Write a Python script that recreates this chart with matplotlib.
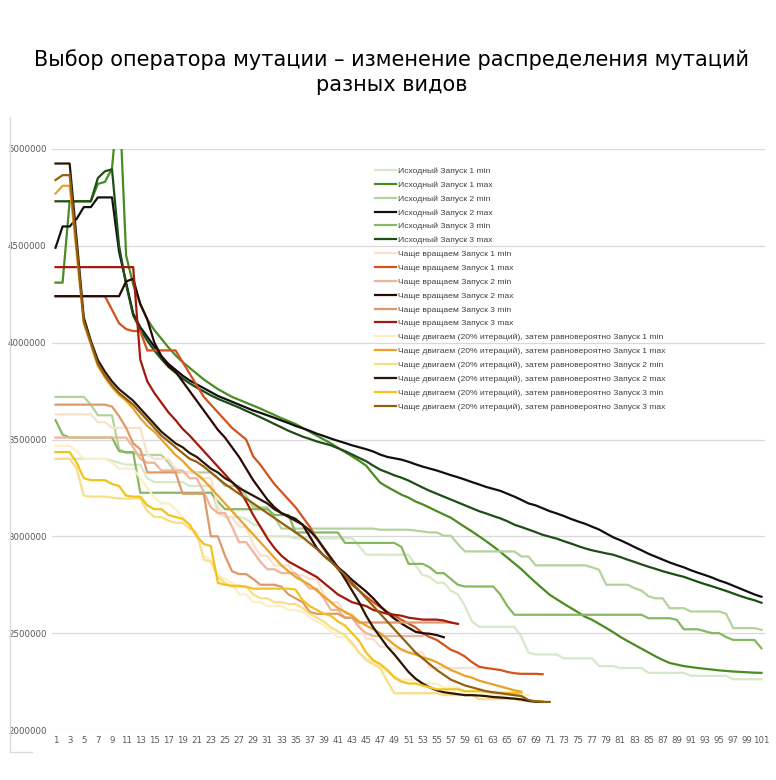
import matplotlib
matplotlib.use("Agg")
import matplotlib.pyplot as plt
from matplotlib.lines import Line2D
from matplotlib.ticker import FuncFormatter

# values are in thousands, x = iteration number 1..n
iterations = list(range(1, 102))

isx1_min = ([3400]*8 + [3390, 3380] + [3370]*3 + [3300] + [3280]*5 + [3260]*4 + [3120] + [3100]*3 + [3090]
            + [3060]*2 + [3000]*4 + [2990]*9 + [2950] + [2905]*7 + [2850, 2800, 2790] + [2760]*2 + [2720, 2700, 2640, 2560]
            + [2533]*6 + [2480, 2400] + [2390]*4 + [2370]*5 + [2330]*3 + [2320]*4 + [2295]*6 + [2280]*6 + [2262]*5)
isx1_max = [4310, 4310, 4730, 4730, 4730, 4730, 4820, 4830, 4900, 5300,
            4450, 4300, 4200, 4120, 4065, 4020, 3975, 3935, 3900, 3870,
            3840, 3810, 3785, 3760, 3740, 3720, 3705, 3690, 3675, 3660,
            3643, 3627, 3610, 3595, 3580, 3560, 3540, 3520, 3500, 3480,
            3458, 3435, 3413, 3390, 3365, 3320, 3277, 3255, 3235, 3215,
            3200, 3180, 3165, 3148, 3130, 3113, 3096, 3072, 3048, 3025,
            3000, 2975, 2948, 2920, 2890, 2860, 2830, 2795, 2762, 2730,
            2698, 2675, 2652, 2630, 2608, 2585, 2569, 2548, 2527, 2505,
            2481, 2460, 2440, 2420, 2400, 2380, 2362, 2346, 2338, 2330,
            2325, 2320, 2316, 2312, 2308, 2305, 2302, 2300, 2298, 2296, 2295]
isx2_min = ([3720]*5 + [3680] + [3625]*3 + [3450] + [3430]*2 + [3420]*4 + [3380] + [3330]*6 + [3300] + [3260]*3
            + [3210] + [3150]*3 + [3100] + [3040]*14 + [3034]*5 + [3030, 3025, 3020, 3020, 3003, 3003, 2960]
            + [2922]*8 + [2896]*2 + [2850]*8 + [2840, 2827] + [2750]*4 + [2733, 2720, 2690, 2680, 2680]
            + [2629]*3 + [2612]*5 + [2600] + [2526]*4 + [2517])
isx2_max = [4490, 4600, 4600, 4640, 4700, 4700, 4750, 4750, 4750, 4470,
            4310, 4150, 4080, 4030, 3980, 3930, 3890, 3860, 3830, 3805,
            3785, 3765, 3745, 3725, 3710, 3695, 3680, 3665, 3650, 3638,
            3625, 3612, 3598, 3585, 3570, 3558, 3545, 3530, 3518, 3505,
            3493, 3482, 3470, 3460, 3450, 3438, 3422, 3410, 3403, 3396,
            3385, 3372, 3360, 3350, 3340, 3328, 3316, 3305, 3293, 3280,
            3268, 3255, 3245, 3235, 3220, 3205, 3188, 3170, 3160, 3145,
            3130, 3118, 3105, 3090, 3077, 3065, 3050, 3035, 3015, 2995,
            2980, 2963, 2945, 2928, 2910, 2895, 2880, 2865, 2852, 2840,
            2825, 2812, 2800, 2787, 2772, 2760, 2745, 2730, 2715, 2700, 2688]
isx3_min = ([3600, 3525] + [3510]*7 + [3440] + [3435]*2 + [3225]*11 + [3180] + [3140]*7 + [3110]*3 + [3020]*7
            + [2966]*8 + [2945] + [2858]*3 + [2840] + [2810]*2 + [2780, 2750] + [2741]*5 + [2700, 2640]
            + [2595]*19 + [2577]*4 + [2569] + [2520]*3 + [2510] + [2500]*2 + [2480] + [2465]*4 + [2422])
isx3_max = [4730, 4730, 4730, 4730, 4730, 4730, 4850, 4885, 4895, 4500,
            4300, 4140, 4070, 4010, 3960, 3915, 3875, 3845, 3815, 3790,
            3768, 3748, 3728, 3710, 3695, 3680, 3665, 3648, 3632, 3615,
            3598, 3580, 3563, 3545, 3530, 3515, 3503, 3490, 3480, 3470,
            3455, 3440, 3423, 3405, 3388, 3365, 3344, 3330, 3315, 3303,
            3288, 3270, 3252, 3235, 3220, 3205, 3190, 3175, 3160, 3145,
            3130, 3118, 3105, 3093, 3078, 3060, 3048, 3035, 3022, 3008,
            2998, 2988, 2975, 2963, 2950, 2938, 2928, 2920, 2912, 2905,
            2893, 2880, 2868, 2855, 2843, 2832, 2820, 2810, 2800, 2791,
            2778, 2765, 2753, 2742, 2730, 2718, 2705, 2692, 2680, 2670, 2657]

vr1_min = ([3630]*6 + [3590]*2 + [3560]*5 + [3420] + [3400]*3 + [3350] + [3330]*3 + [3300]*2 + [3150]
           + [3100]*2 + [3050]*2 + [2960] + [2900]*2 + [2850]*3 + [2800]*2 + [2780]*2 + [2700] + [2660]*2
           + [2600]*2 + [2550] + [2470]*2 + [2430]*2 + [2420]*2 + [2400]*3 + [2320]*8)
vr1_max = ([4240]*8 + [4170, 4100, 4070, 4060, 4060] + [3960]*5
           + [3900, 3840, 3780, 3720, 3680, 3640, 3600, 3560, 3530]
           + [3500, 3413, 3370, 3320, 3270, 3230, 3190, 3150, 3100, 3050]
           + [2990, 2935, 2880, 2830, 2790, 2750, 2720, 2690, 2660, 2635]
           + [2610, 2590, 2569, 2550, 2530, 2500, 2480, 2465, 2440, 2414]
           + [2400, 2379, 2350, 2327, 2320, 2315, 2310, 2300, 2293, 2290, 2290, 2290, 2288])
vr2_min = ([3510]*11 + [3460, 3400] + [3380]*2 + [3340]*4 + [3300]*2 + [3230, 3150] + [3120]*2 + [3050]
           + [2970]*2 + [2920, 2870] + [2830]*2 + [2810]*3 + [2770] + [2730]*2 + [2680] + [2620]*2
           + [2580]*2 + [2530, 2500] + [2485]*8)
vr2_max = ([4240]*10 + [4316, 4330, 4200, 4120, 4000, 3930, 3880, 3850, 3800, 3750]
           + [3700, 3650, 3600, 3550, 3510, 3460, 3410, 3350, 3290, 3240]
           + [3190, 3150, 3120, 3105, 3090, 3060, 3000, 2940, 2900, 2870]
           + [2840, 2810, 2775, 2745, 2715, 2680, 2640, 2605, 2575, 2550]
           + [2528, 2507, 2500, 2497, 2490, 2479])
vr3_min = ([3680]*8 + [3670, 3620, 3560, 3480, 3450] + [3330]*5 + [3220]*4 + [3000]*2 + [2900, 2820]
           + [2805]*2 + [2780] + [2750]*3 + [2740, 2700, 2680, 2660, 2610] + [2600]*4 + [2580]*2 + [2555]*14)
vr3_max = ([4390]*12 + [3913, 3800, 3740, 3690, 3640, 3600, 3555, 3520]
           + [3480, 3440, 3400, 3360, 3320, 3280, 3240, 3180, 3110, 3050]
           + [2990, 2940, 2900, 2870, 2850, 2830, 2810, 2790, 2760, 2730]
           + [2700, 2680, 2660, 2650, 2640, 2620, 2610, 2600, 2595, 2590]
           + [2580, 2575, 2570, 2570, 2570, 2565, 2555, 2548])

dv1_min = ([3468]*3 + [3440] + [3400]*4 + [3380] + [3350]*3 + [3300, 3250, 3200] + [3170]*2
           + [3140, 3100, 3060, 3000, 2900, 2880, 2800, 2780, 2760] + [2700]*2 + [2660]*2 + [2640]*3
           + [2620]*2 + [2610, 2580, 2560, 2540, 2510] + [2480]*2 + [2440, 2400, 2370, 2350, 2330, 2300, 2280]
           + [2260]*3 + [2240]*3 + [2220]*3 + [2200]*4 + [2180]*6)
dv1_max = [4770, 4810, 4810, 4460, 4100, 3990, 3880, 3820, 3770, 3730,
           3700, 3660, 3610, 3570, 3540, 3500, 3460, 3420, 3390, 3350,
           3320, 3290, 3250, 3210, 3170, 3130, 3090, 3050, 3010, 2970,
           2930, 2890, 2850, 2820, 2790, 2770, 2750, 2720, 2690, 2660,
           2630, 2610, 2590, 2560, 2540, 2520, 2500, 2470, 2440, 2415,
           2400, 2390, 2375, 2365, 2350, 2330, 2310, 2295, 2280, 2270,
           2255, 2245, 2235, 2225, 2215, 2205, 2198]
dv2_min = ([3400]*3 + [3350, 3210] + [3205]*3 + [3200] + [3195]*4 + [3130] + [3100]*2 + [3080] + [3070]*2
           + [3040, 3020, 2880, 2870, 2790, 2760] + [2740]*3 + [2700] + [2680]*2 + [2660]*2 + [2650]*2
           + [2630, 2600, 2580, 2560, 2530, 2510, 2490, 2450, 2400, 2360, 2340, 2320, 2250]
           + [2190]*7 + [2180]*5 + [2160]*6 + [2150]*4)
dv2_max = [4925, 4925, 4925, 4530, 4130, 4010, 3910, 3850, 3800, 3760,
           3730, 3700, 3660, 3620, 3580, 3540, 3510, 3480, 3460, 3430,
           3410, 3380, 3350, 3330, 3300, 3280, 3250, 3230, 3210, 3190,
           3170, 3140, 3120, 3100, 3080, 3060, 3030, 2990, 2940, 2890,
           2840, 2780, 2720, 2660, 2590, 2530, 2480, 2430, 2390, 2345,
           2300, 2265, 2240, 2220, 2205, 2195, 2190, 2185, 2180, 2180,
           2178, 2175, 2170, 2168, 2165, 2162, 2158, 2150, 2146, 2145]
dv3_min = ([3435]*3 + [3380, 3300] + [3290]*3 + [3270, 3260, 3210] + [3205]*2 + [3160] + [3140]*2
           + [3110, 3100, 3090, 3060, 3000, 2960, 2950, 2760, 2750] + [2745]*2 + [2740] + [2730]*6
           + [2725, 2670, 2640, 2620, 2600, 2590, 2560, 2540, 2500, 2460, 2400, 2360, 2340, 2310, 2270, 2250]
           + [2240]*2 + [2230, 2220] + [2210]*4 + [2200]*4 + [2192]*5)
dv3_max = [4840, 4865, 4865, 4490, 4110, 4000, 3890, 3830, 3780, 3740,
           3710, 3680, 3640, 3600, 3560, 3520, 3490, 3460, 3430, 3400,
           3385, 3360, 3330, 3300, 3270, 3245, 3220, 3195, 3170, 3145,
           3120, 3095, 3070, 3045, 3020, 2995, 2965, 2935, 2900, 2870,
           2835, 2800, 2760, 2720, 2680, 2640, 2600, 2560, 2520, 2480,
           2440, 2400, 2370, 2340, 2310, 2285, 2260, 2245, 2230, 2220,
           2210, 2200, 2195, 2190, 2185, 2180, 2175, 2155, 2148, 2145, 2145]

series = [
    ("Исходный Запуск 1 min", isx1_min, "#d5e8c8"),
    ("Исходный Запуск 1 max", isx1_max, "#4a8c23"),
    ("Исходный Запуск 2 min", isx2_min, "#b2d39c"),
    ("Исходный Запуск 2 max", isx2_max, "#101010"),
    ("Исходный Запуск 3 min", isx3_min, "#85b862"),
    ("Исходный Запуск 3 max", isx3_max, "#1f4d18"),
    ("Чаще вращаем Запуск 1 min", vr1_min, "#fbe0cc"),
    ("Чаще вращаем Запуск 1 max", vr1_max, "#d4521c"),
    ("Чаще вращаем Запуск 2 min", vr2_min, "#efb59b"),
    ("Чаще вращаем Запуск 2 max", vr2_max, "#2a0805"),
    ("Чаще вращаем Запуск 3 min", vr3_min, "#e19868"),
    ("Чаще вращаем Запуск 3 max", vr3_max, "#a3190d"),
    ("Чаще двигаем (20% итераций), затем равновероятно Запуск 1 min", dv1_min, "#fcefc4"),
    ("Чаще двигаем (20% итераций), затем равновероятно Запуск 1 max", dv1_max, "#e8a328"),
    ("Чаще двигаем (20% итераций), затем равновероятно Запуск 2 min", dv2_min, "#f8df86"),
    ("Чаще двигаем (20% итераций), затем равновероятно Запуск 2 max", dv2_max, "#2c1505"),
    ("Чаще двигаем (20% итераций), затем равновероятно Запуск 3 min", dv3_min, "#f3c21c"),
    ("Чаще двигаем (20% итераций), затем равновероятно Запуск 3 max", dv3_max, "#93600f"),
]

plt.rcParams['font.family'] = ['DejaVu Sans']

fig = plt.figure(figsize=(7.76, 7.8), dpi=100)
ax = fig.add_axes([52/776, 1 - 730/780, 713/776, 581/780])

for name, vals, col in series:
    xs = iterations[:len(vals)]
    ax.plot(xs, [v * 1000 for v in vals], color=col, lw=1.6, label=name, solid_joinstyle='round')

ax.set_xlim(0.5, 101.5)
ax.set_ylim(2000000, 5000000)
ax.set_yticks([2000000, 2500000, 3000000, 3500000, 4000000, 4500000, 5000000])
ax.yaxis.set_major_formatter(FuncFormatter(lambda v, p: "%d" % v))
ax.set_xticks(iterations[::2])
ax.set_xticklabels([str(i) for i in iterations[::2]])
ax.tick_params(length=0, labelsize=6.2, colors='#595959', pad=4)
ax.grid(axis='y', color='#d9d9d9', lw=0.9)
ax.set_axisbelow(True)
for s in ax.spines.values():
    s.set_visible(False)

fig.text(0.505, 1 - 72/780, "Выбор оператора мутации – изменение распределения мутаций\nразных видов",
         ha='center', va='center', fontsize=15, linespacing=1.35, color='#000000')

leg = ax.legend(loc='upper left', bbox_to_anchor=(375/776, 1 - 167/780), bbox_transform=fig.transFigure,
                frameon=False, prop={'family': 'Liberation Sans', 'size': 6.1},
                labelspacing=0.70, handlelength=2.5, handletextpad=0.2,
                borderpad=0, borderaxespad=0)
for t in leg.get_texts():
    t.set_color('#404040')

# chart area border remnant on the left
fig.add_artist(Line2D([9.5/776, 9.5/776], [1 - 117/780, 1 - 752/780], transform=fig.transFigure,
                      color='#d9d9d9', lw=0.9))
fig.add_artist(Line2D([9.5/776, 32/776], [1 - 752/780, 1 - 752/780], transform=fig.transFigure,
                      color='#d9d9d9', lw=0.9))

fig.savefig("out.png", dpi=100)
